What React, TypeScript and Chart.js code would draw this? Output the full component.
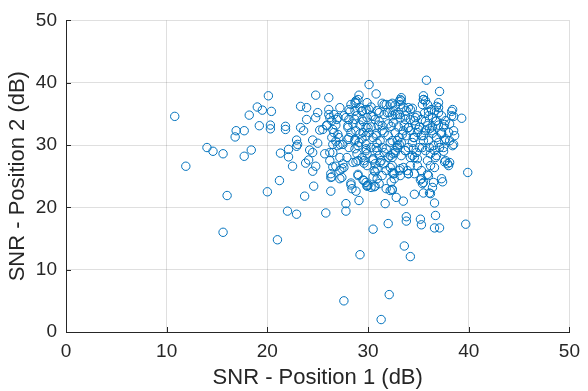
import React, { useEffect, useRef } from "react";
import { Chart, registerables } from "chart.js";

Chart.register(...registerables);

const xTickValues = [0, 10, 20, 30, 40, 50];
const yTickValues = [0, 10, 20, 30, 40, 50];

const snrPosition1 = [
  10.8, 11.9, 14.0, 14.6, 15.6, 15.6, 16.0, 16.9, 16.8, 17.7, 17.7, 18.4, 18.2, 19.0, 19.5, 19.2,
  20.1, 20.4, 20.3, 20.3, 20.0, 21.0, 21.2, 21.3, 21.8, 21.8, 22.1, 22.1, 22.0, 22.5, 22.9, 22.9,
  23.0, 22.9, 23.3, 23.9, 23.3, 23.9, 23.6, 23.7, 23.8, 24.1, 24.2, 24.5, 24.5, 24.5, 24.6, 24.8,
  24.8, 25.0, 24.8, 25.0, 25.2, 25.5, 25.8, 25.7, 25.9, 26.1, 26.1, 26.1, 26.3, 26.2, 26.3, 26.3,
  26.5, 26.8, 26.8, 27.0, 27.2, 27.2, 27.4, 27.5, 27.6, 27.8, 27.8, 28.0, 28.1, 28.0, 28.3, 28.4,
  28.8, 29.0, 29.1, 29.2, 28.8, 29.1, 30.1, 29.8, 29.9, 30.8, 30.5, 30.7, 31.3, 31.7, 32.0, 32.1,
  32.4, 32.8, 33.5, 33.6, 33.8, 33.8, 34.2, 34.6, 35.2, 35.3, 35.5, 35.8, 36.1, 36.2, 36.6, 36.7,
  36.6, 37.1, 37.1, 37.3, 37.4, 37.7, 37.9, 38.1, 38.4, 38.5, 38.4, 39.3, 39.7, 39.9,
  29.0, 28.7, 29.4, 30.3, 30.9, 31.4, 31.8, 32.2, 32.7, 33.3, 33.3, 33.5, 34.0, 34.4, 35.5, 35.5,
  35.7, 35.9, 37.0, 37.0, 36.6, 36.3,
  28.9, 29.4, 29.9, 30.3, 30.7, 31.1, 31.6, 32.1, 32.4, 32.5, 32.9, 33.2, 33.7, 33.8, 34.2, 34.6,
  34.9, 35.3, 35.6, 36.0, 36.4, 36.8, 37.3, 37.7, 38.1, 38.3, 28.1, 27.6, 28.5, 29.2, 29.8, 30.3,
  31.0, 31.4, 32.0, 32.5, 33.0, 33.6, 34.0, 34.7, 35.1, 35.9, 36.4, 37.0, 37.5,
  28.3, 28.8, 29.2, 29.4, 29.8, 30.1, 30.5, 30.8, 31.2, 31.6, 32.0, 32.4, 32.7, 33.1, 33.5, 33.8,
  34.2, 34.6, 34.9, 35.3, 35.7, 36.1, 36.4, 36.8, 37.3, 37.7, 38.1, 35.5, 34.4, 33.3, 32.2, 30.9,
  28.7, 28.1,
  28.1, 28.7, 29.0, 29.8, 29.9, 30.3, 30.9, 31.1, 31.4, 31.6, 32.0, 32.2, 32.4, 32.5, 32.7, 32.9,
  33.1, 33.3, 33.7, 34.0, 34.4, 34.6, 34.8, 35.1, 35.7, 36.1, 36.2, 36.6, 36.8, 37.1, 37.5, 28.9,
  29.4, 30.5,
  28.5, 29.0, 29.6, 29.9, 30.7, 30.9, 31.2, 31.6, 31.8, 32.2, 32.4, 32.5, 32.6, 33.1, 33.2, 33.5,
  33.9, 34.0, 34.2, 34.6, 34.9, 35.3, 35.3, 35.5, 35.9, 36.2, 36.6, 36.5, 36.4, 29.6, 29.9, 30.3,
  30.5, 30.9, 31.1, 30.7, 31.8, 32.2,
  27.2, 27.6, 27.9, 27.1, 26.8, 26.6, 26.5, 25.9, 26.4, 26.6, 28.7, 28.3, 29.2, 29.8, 29.9,
  28.8, 28.2, 29.4, 30.1, 31.6, 32.4, 33.1, 26.2, 26.9, 27.8, 28.7, 28.0, 29.5, 30.5, 31.1, 31.9,
  32.7, 26.4, 27.0, 26.5, 27.5, 28.7, 29.5, 30.0, 30.8, 31.4, 32.3, 32.9, 29.1, 29.8,
  33.2, 35.5, 33.2, 35.4, 34.2, 36.8, 36.0, 37.0, 38.3, 38.5, 33.1, 33.7, 34.7, 35.7, 36.7, 37.6,
  38.0, 38.6, 37.3, 36.3, 35.0, 34.0, 33.4, 34.5, 35.5, 36.0, 37.0, 37.6, 38.5,
  27.0, 26.2, 27.2, 26.5, 27.4, 26.4, 27.2, 28.8, 29.6, 29.0, 28.3, 29.5, 30.0, 30.6, 30.6, 31.4,
  32.3, 32.4, 30.5, 31.3, 32.4, 32.6, 30.8, 29.8, 31.8, 32.7,
  32.9, 33.7, 34.5, 35.4, 36.5, 37.5, 34.2, 34.9, 35.9, 36.7, 37.6, 38.0, 33.2, 34.0, 35.2, 35.4,
  36.0,
];

const snrPosition2 = [
  34.6, 26.6, 29.6, 29.0, 28.6, 16.0, 21.9, 32.3, 31.3, 32.3, 28.2, 29.2, 34.8, 36.1, 35.6, 33.1,
  37.9, 35.4, 33.2, 32.6, 22.5, 14.8, 24.3, 28.7, 33.0, 32.5, 29.3, 28.1, 19.4, 26.6, 18.9, 30.8,
  30.1, 29.8, 36.2, 36.0, 32.8, 34.1, 32.3, 21.8, 27.1, 27.6, 29.2, 28.8, 25.8, 30.8, 23.4, 38.0,
  34.4, 35.2, 26.6, 30.3, 32.4, 32.5, 19.1, 28.6, 33.2, 37.6, 34.9, 35.7, 22.6, 27.5, 25.4, 24.8,
  28.8, 26.6, 33.2, 34.4, 30.1, 36.0, 24.8, 27.0, 5.0, 20.6, 19.4, 33.1, 35.7, 30.9, 23.9, 23.0,
  22.6, 25.3, 21.1, 12.4, 37.1, 38.0, 39.7, 24.0, 23.4, 38.2, 16.5, 23.4, 2.0, 20.6, 17.4, 6.0,
  22.9, 21.6, 21.0, 13.8, 18.5, 17.8, 12.1, 22.1, 18.1, 17.2, 22.3, 40.4, 22.3, 22.2, 20.7, 18.7,
  16.7, 16.7, 38.6, 24.6, 24.1, 27.5, 27.0, 27.2, 35.7, 32.3, 29.9, 34.3, 17.3, 25.6,
  37.3, 36.8, 35.5, 36.1, 35.5, 36.7, 36.5, 36.5, 36.4, 37.6, 37.1, 36.1, 36.0, 35.9, 37.9, 37.3,
  37.1, 36.5, 36.8, 36.0, 35.5, 35.7,
  34.7, 34.1, 34.4, 34.7, 34.1, 35.2, 34.9, 35.2, 34.7, 35.5, 34.9, 34.4, 34.7, 35.5, 34.1, 33.9,
  34.7, 34.1, 35.1, 34.7, 34.4, 33.9, 34.7, 33.9, 33.4, 34.7, 34.1, 34.7, 33.4, 33.2, 32.8, 32.9,
  33.2, 33.1, 33.4, 33.6, 32.9, 33.2, 32.8, 33.2, 32.9, 33.1, 32.9, 33.2, 32.9,
  32.0, 32.3, 31.8, 31.0, 31.5, 32.0, 31.2, 31.8, 30.7, 32.0, 31.5, 30.7, 32.0, 31.2, 32.3, 31.5,
  32.3, 31.2, 32.0, 31.5, 32.3, 32.6, 31.9, 31.2, 31.8, 31.0, 30.7, 30.7, 30.4, 30.4, 30.4, 30.3,
  30.7, 31.2,
  29.6, 29.4, 29.9, 29.1, 28.6, 29.6, 29.1, 28.3, 29.6, 28.8, 28.0, 28.3, 28.0, 28.6, 29.1, 29.6,
  30.1, 28.3, 29.1, 29.6, 28.3, 28.0, 28.8, 29.6, 29.1, 29.6, 28.6, 29.1, 28.3, 29.6, 29.0, 28.6,
  28.0, 27.6,
  27.2, 27.5, 27.1, 26.7, 27.0, 26.2, 27.2, 27.0, 25.9, 26.4, 25.6, 25.4, 24.6, 25.9, 25.1, 26.4,
  25.9, 25.4, 26.7, 25.4, 26.7, 25.9, 24.6, 24.0, 25.3, 26.7, 26.4, 24.0, 23.2, 24.3, 23.5, 23.2,
  24.9, 24.6, 23.8, 25.7, 23.0, 22.7,
  25.9, 26.4, 28.0, 31.2, 30.6, 32.0, 32.5, 33.1, 33.9, 34.9, 35.5, 36.5, 36.0, 35.7, 36.8,
  36.7, 35.4, 35.4, 35.7, 36.5, 36.7, 37.0, 34.4, 34.1, 34.4, 34.1, 32.8, 33.8, 34.6, 33.8, 35.2,
  34.9, 31.2, 31.7, 30.1, 30.1, 30.9, 32.0, 32.8, 31.5, 32.3, 33.0, 30.7, 30.4, 30.1,
  37.3, 37.3, 36.5, 36.5, 35.7, 36.2, 35.4, 35.2, 35.4, 34.6, 34.9, 34.1, 34.4, 33.8, 33.8, 33.3,
  32.0, 31.5, 32.0, 32.3, 32.5, 32.8, 31.7, 31.2, 31.5, 30.7, 30.4, 30.7, 30.1,
  29.9, 28.8, 28.0, 26.5, 26.2, 24.9, 24.6, 27.3, 27.5, 25.1, 23.6, 24.4, 23.6, 23.3, 25.9, 25.1,
  24.1, 22.8, 27.8, 27.5, 26.7, 25.4, 29.6, 29.4, 29.4, 28.8,
  29.9, 29.1, 29.4, 29.6, 29.9, 29.6, 28.0, 27.8, 27.5, 28.0, 27.3, 26.7, 26.2, 25.4, 24.4, 23.8,
  25.1,
];

const FONT = "'Liberation Sans', Arial, Helvetica, sans-serif";
const TEXT = "#262626";

const innerTicks = {
  id: "innerTicks",
  afterDraw(chart: any) {
    const { ctx, chartArea, scales } = chart;
    ctx.save();
    ctx.strokeStyle = TEXT;
    ctx.lineWidth = 1;
    ctx.beginPath();
    for (const v of xTickValues) {
      const px = Math.round(scales.x.getPixelForValue(v)) + 0.5;
      ctx.moveTo(px, chartArea.bottom);
      ctx.lineTo(px, chartArea.bottom - 5);
    }
    for (const v of yTickValues) {
      const py = Math.round(scales.y.getPixelForValue(v)) + 0.5;
      ctx.moveTo(chartArea.left, py);
      ctx.lineTo(chartArea.left + 5, py);
    }
    ctx.stroke();
    ctx.restore();
  },
};

export default function App() {
  const ref = useRef<HTMLCanvasElement | null>(null);
  useEffect(() => {
    if (!ref.current) return;
    const points = snrPosition1.map((x, i) => ({ x, y: snrPosition2[i] }));
    const chart = new Chart(ref.current, {
      type: "scatter",
      data: {
        datasets: [
          {
            data: points,
            pointStyle: "circle",
            pointRadius: 4.2,
            pointBorderWidth: 1,
            borderColor: "#0072BD",
            backgroundColor: "rgba(0,0,0,0)",
            pointBackgroundColor: "rgba(0,0,0,0)",
          },
        ],
      },
      options: {
        animation: false,
        responsive: false,
        maintainAspectRatio: false,
        layout: { padding: { left: 0, right: 12, top: 17, bottom: 0 } },
        plugins: { legend: { display: false }, tooltip: { enabled: false } },
        scales: {
          x: {
            type: "linear",
            min: 0,
            max: 50,
            afterBuildTicks: (s: any) => {
              s.ticks = xTickValues.map((v) => ({ value: v }));
            },
            afterFit: (s: any) => {
              s.height = 59;
            },
            ticks: { color: TEXT, font: { family: FONT, size: 19 }, padding: 8 },
            grid: { color: "rgba(38,38,38,0.15)", drawTicks: false },
            border: { color: TEXT, width: 1 },
            title: {
              display: true,
              text: "SNR - Position 1 (dB)",
              color: TEXT,
              font: { family: FONT, size: 22 },
              padding: { top: 0, bottom: 0 },
            },
          },
          y: {
            type: "linear",
            min: 0,
            max: 50,
            afterBuildTicks: (s: any) => {
              s.ticks = yTickValues.map((v) => ({ value: v }));
            },
            afterFit: (s: any) => {
              s.width = 66;
            },
            ticks: { color: TEXT, font: { family: FONT, size: 19 }, padding: 9 },
            grid: { color: "rgba(38,38,38,0.15)", drawTicks: false },
            border: { color: TEXT, width: 1 },
            title: {
              display: true,
              text: "SNR - Position 2 (dB)",
              color: TEXT,
              font: { family: FONT, size: 22 },
              padding: { top: 5, bottom: 0 },
            },
          },
        },
      },
      plugins: [innerTicks],
    });
    return () => chart.destroy();
  }, []);
  return (
    <div style={{ position: "fixed", left: 0, top: 0, width: 588, height: 391, background: "#fff" }}>
      <canvas ref={ref} width={588} height={391} style={{ display: "block" }} />
    </div>
  );
}
